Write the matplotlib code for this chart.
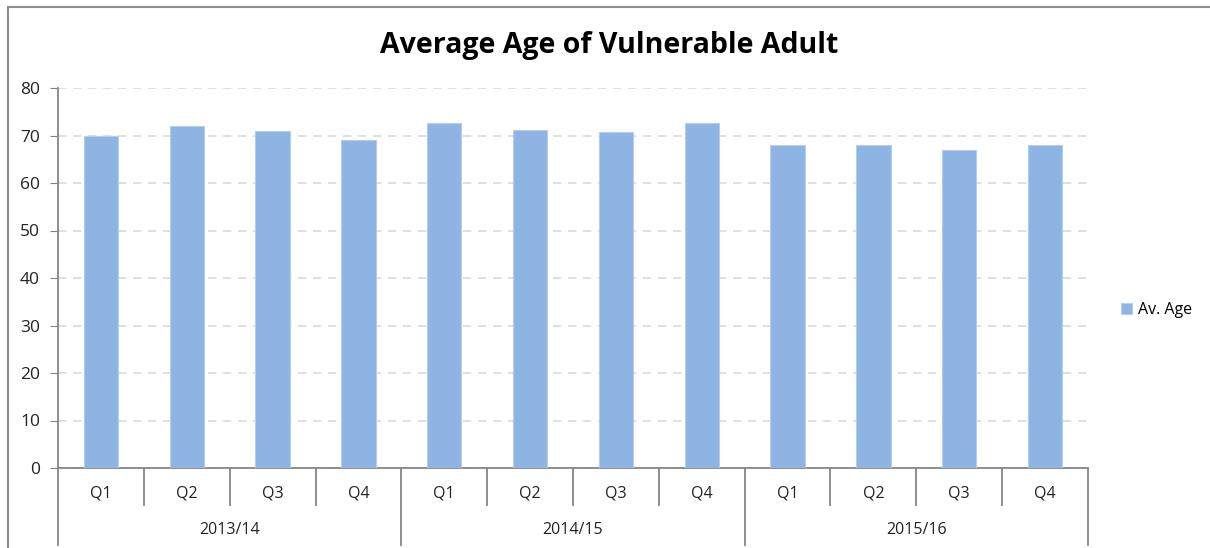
import matplotlib
matplotlib.use("Agg")
import matplotlib.pyplot as plt
from matplotlib.patches import Rectangle
from matplotlib.transforms import blended_transform_factory

years = ["2013/14", "2014/15", "2015/16"]
quarters = ["Q1", "Q2", "Q3", "Q4"]
av_age = [70, 72, 71, 69, 72.6, 71.2, 70.7, 72.6, 68, 68, 67, 68]
yticks = [0, 10, 20, 30, 40, 50, 60, 70, 80]

W, H = 1210, 548
plt.rcParams["font.family"] = ["Open Sans", "DejaVu Sans"]
fig = plt.figure(figsize=(W / 100, H / 100), dpi=100)

# outer chart border
fig.patches.append(Rectangle((8 / W, -0.05), 1.1, (H - 7) / H + 0.05,
                             transform=fig.transFigure, fill=False,
                             edgecolor="#8c8c8c", linewidth=1.5))

ax = fig.add_axes([58 / W, (H - 468) / H, 1030 / W, 380 / H])
n = len(av_age)
x = list(range(n))
ax.bar(x, av_age, width=0.4, color="#8eb4e3", edgecolor="#b5cdee",
       linewidth=0.8, zorder=3, label="Av. Age")
ax.set_xlim(-0.5, n - 0.5)
ax.set_ylim(0, 80)
ax.set_yticks(yticks)
ax.tick_params(axis="y", length=6, color="#868686", labelsize=12.5,
               labelcolor="#222222", pad=7)
ax.tick_params(axis="x", length=0, labelbottom=False)
ax.grid(axis="y", color="#dadada", linestyle=(0, (5, 4)), linewidth=1.2, zorder=0)
for s in ["top", "right"]:
    ax.spines[s].set_visible(False)
for s in ["left", "bottom"]:
    ax.spines[s].set_color("#868686")
    ax.spines[s].set_linewidth(1.3)

# two-level category axis
tr = blended_transform_factory(ax.transData, ax.transAxes)
px = 1 / 380
for i in range(n + 1):
    depth = 77 if i % 4 == 0 else 37
    ax.plot([i - 0.5, i - 0.5], [0, -depth * px], transform=tr,
            color="#868686", linewidth=1.3, clip_on=False)
for i in x:
    ax.text(i, -25 * px, quarters[i % 4], transform=tr, ha="center",
            va="center", fontsize=11.5, color="#222222")
for j, yr in enumerate(years):
    ax.text(j * 4 + 1.5, -62 * px, yr, transform=tr, ha="center",
            va="center", fontsize=11.5, color="#222222")

fig.text(609 / W, 1 - 45 / H, "Average Age of Vulnerable Adult",
         ha="center", va="center", fontsize=20.5, fontweight="bold",
         color="#000000")

ax.legend(loc="center left", bbox_to_anchor=(1.018, 0.415), frameon=False,
          fontsize=11.5, handlelength=0.7, handleheight=0.7, handletextpad=0.4)

fig.savefig("out.png", dpi=100)
